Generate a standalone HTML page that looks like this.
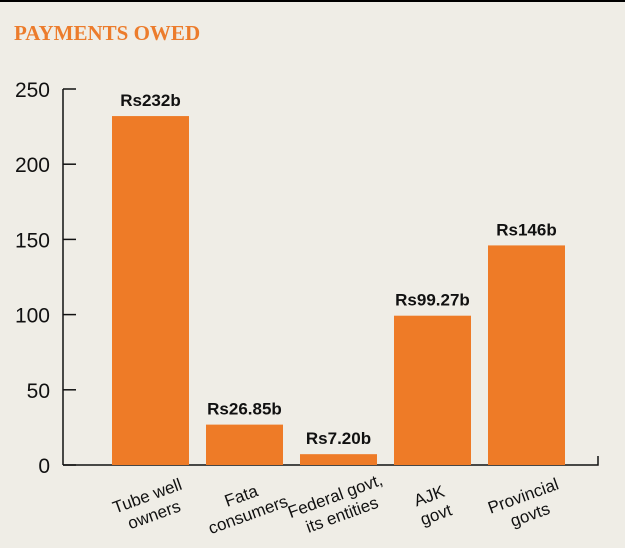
<!DOCTYPE html>
<html><head><meta charset="utf-8"><style>
body{margin:0;width:625px;height:548px;background:#efede6;overflow:hidden;}
svg{display:block}
</style></head><body>
<svg width="625" height="548">
<rect x="0" y="0" width="625" height="2" fill="#000"/>
<text x="14" y="40" font-family="Liberation Serif, serif" font-weight="bold" font-size="21" fill="#ec7c2c">PAYMENTS OWED</text>
<g id="axes"></g><g id="bars"></g>
</svg>
<script>
const categories=[["Tube well","owners"],["Fata","consumers"],["Federal govt,","its entities"],["AJK","govt"],["Provincial","govts"]];
const values=[232,26.85,7.2,99.27,146];
const valueLabels=["Rs232b","Rs26.85b","Rs7.20b","Rs99.27b","Rs146b"];
const ticks=[0,50,100,150,200,250];
const NS="http://www.w3.org/2000/svg";
const y0=465,yTop=89,vmax=250;
const y=v=>y0-(v/vmax)*(y0-yTop);
const x=i=>112+i*94;
const bw=77;
function mk(t,a,p){const e=document.createElementNS(NS,t);for(const k in a)e.setAttribute(k,a[k]);p.appendChild(e);return e;}
const ax=document.getElementById('axes'),bg=document.getElementById('bars');
const yl=mk('line',{x1:63,y1:y(250),x2:63,y2:y0,stroke:'#111','stroke-width':1.5},ax);


const xl=mk('path',{d:`M63 ${y0}H598V${y0-9}`,stroke:'#111','stroke-width':1.5,fill:'none'},ax);


ticks.forEach(t=>{
 const l=mk('line',{x1:63,x2:76,y1:y(t),y2:y(t),stroke:'#111','stroke-width':1.5},ax);
 
 
 const tx=mk('text',{x:50,y:y(t)+8,'text-anchor':'end','font-family':'Liberation Sans, sans-serif','font-size':21,fill:'#111'},ax);
 tx.textContent=t;
 
 
});
values.forEach((v,i)=>{
 const r=mk('rect',{x:x(i),y:y(v),width:bw,height:y0-y(v),fill:'#ee7b27'},bg);
 
 
 const vl=mk('text',{x:x(i)+bw/2,y:y(v)-10,'text-anchor':'middle','font-family':'Liberation Sans, sans-serif','font-weight':'bold','font-size':17,fill:'#111'},bg);
 vl.textContent=valueLabels[i];
 
 
 const cx=x(i)+bw/2,cy=y0+40;
 const g=mk('g',{transform:`translate(${cx},${cy}) rotate(-20)`},bg);
 
 
 categories[i].forEach((s,j)=>{
  const t=mk('text',{x:0,y:j*20-4,'text-anchor':'middle','font-family':'Liberation Sans, sans-serif','font-size':17,fill:'#111'},g);
  t.textContent=s;
 });
});
</script>
</body></html>
